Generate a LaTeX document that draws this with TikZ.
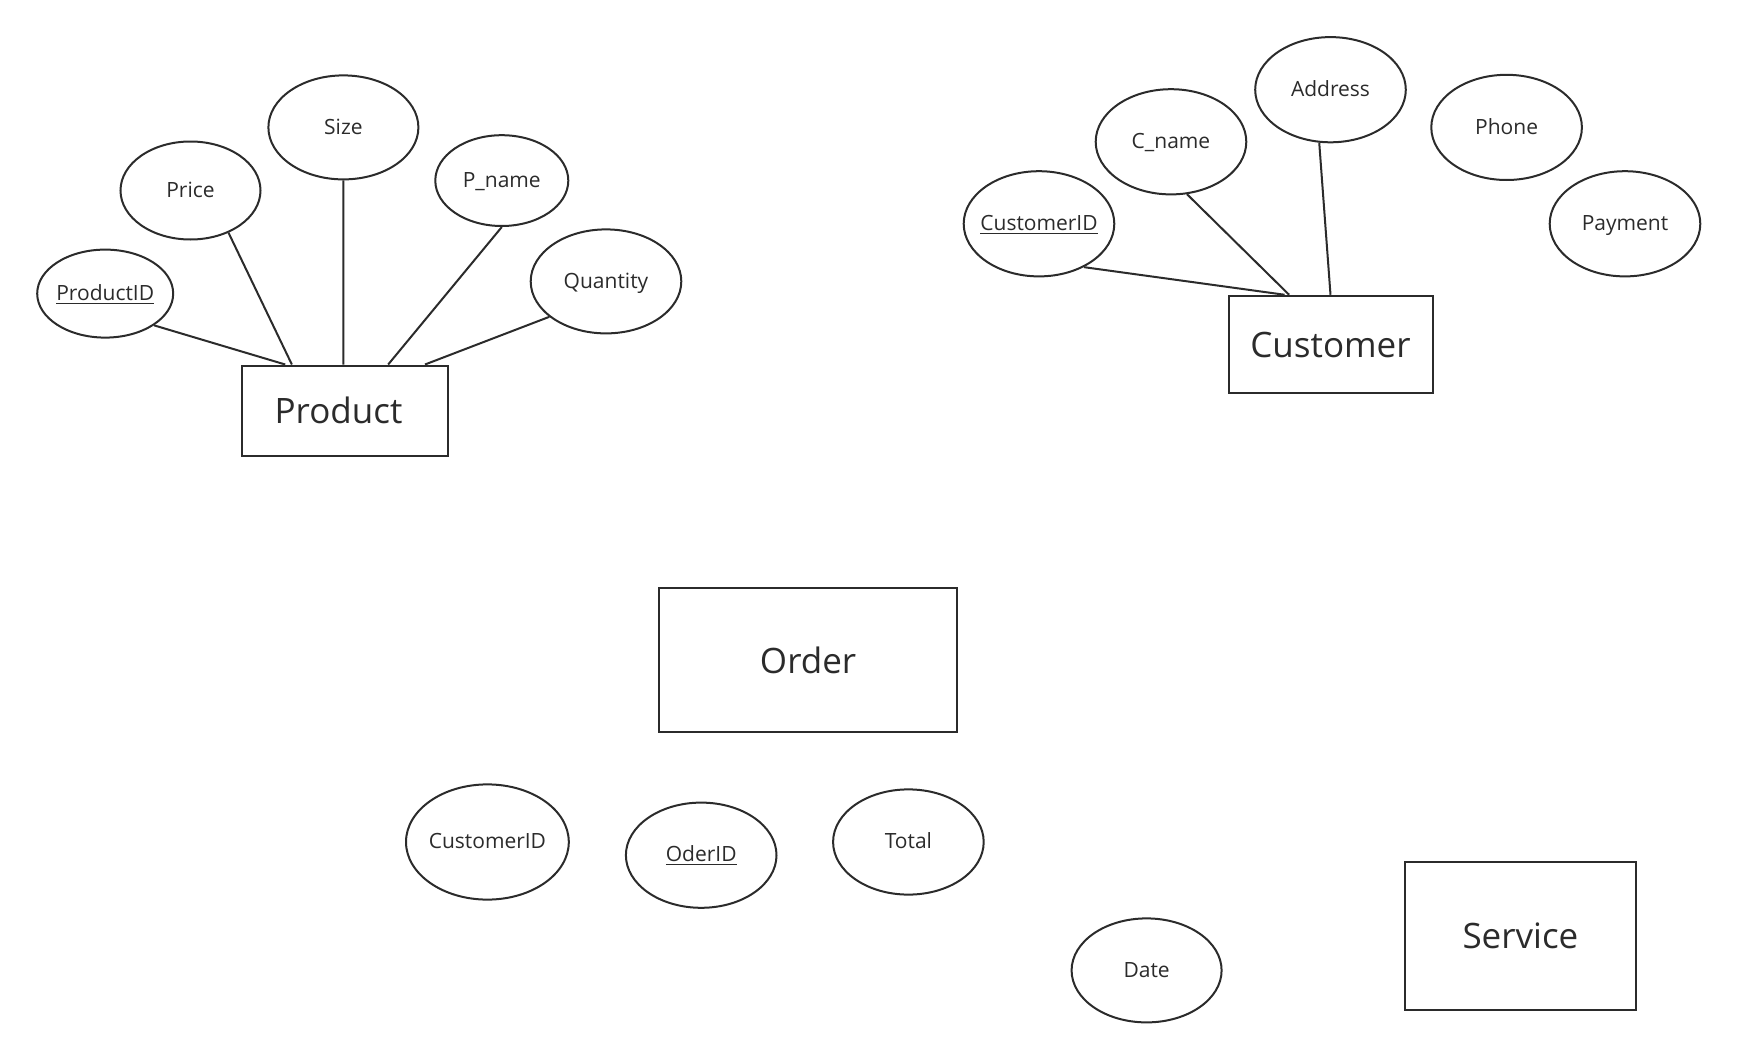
\documentclass[tikz,border=0pt]{standalone}
\usepackage{fontspec}
\setmainfont{Open Sans}
\usetikzlibrary{calc,shapes.geometric}
\definecolor{ink}{HTML}{2B2B2B}
\tikzset{
  attr/.style={draw=ink, line width=1pt, ellipse, inner ysep=0pt, inner xsep=-18pt, text height=6.6pt, text depth=0pt, text=ink, font=\fontsize{10.5}{12}\selectfont},
  entity/.style={draw=ink, line width=1pt, rectangle, inner sep=0pt, text=ink, font=\fontsize{17.5}{20}\selectfont},
  link/.style={draw=ink, line width=1pt}
}
\begin{document}
\begin{tikzpicture}[x=0.5pt,y=-0.5pt]
\useasboundingbox (0,0) rectangle (1737,1060);
% Product
\node[entity, minimum width=103pt, minimum height=45pt] (prod) at (344.5,410.5) {Product\hspace*{6pt}};
\node[attr, minimum width=68pt, minimum height=44pt] (pid) at (105.2,293.6) {\underline{ProductID}};
\node[attr, minimum width=70pt, minimum height=49pt] (price) at (190.5,190.5) {Price};
\node[attr, minimum width=75pt, minimum height=52pt] (size) at (343.4,127.4) {Size};
\node[attr, minimum width=66.5pt, minimum height=45.4pt] (pname) at (501.8,180.6) {P\_name};
\node[attr, minimum width=75.3pt, minimum height=52pt] (qty) at (606,281.4) {Quantity};
\coordinate (p1) at ($(prod.north west)!0.215!(prod.north east)$);
\coordinate (p2) at ($(prod.north west)!0.247!(prod.north east)$);
\coordinate (p3) at ($(prod.north west)!0.495!(prod.north east)$);
\coordinate (p4) at ($(prod.north west)!0.71!(prod.north east)$);
\coordinate (p5) at ($(prod.north west)!0.887!(prod.north east)$);
\draw[link] (pid.-33) -- (p1);
\draw[link] (price.-48) -- (p2);
\draw[link] (size.south) -- (p3);
\draw[link] (pname.south) -- (p4);
\draw[link] (qty.-148) -- (p5);
% Customer
\node[entity, minimum width=102pt, minimum height=48.75pt] (cust) at (1330.5,344.5) {Customer};
\node[attr, minimum width=75.3pt, minimum height=52.6pt] (cid) at (1039,223.8) {\underline{CustomerID}};
\node[attr, minimum width=75.3pt, minimum height=52.6pt] (cname) at (1171,141.8) {C\_name};
\node[attr, minimum width=75.3pt, minimum height=52.6pt] (addr) at (1330.5,89.7) {Address};
\node[attr, minimum width=75.3pt, minimum height=52.6pt] (phone) at (1506.6,127.4) {Phone};
\node[attr, minimum width=75.3pt, minimum height=52.6pt] (pay) at (1625,223.8) {Payment};
\coordinate (c1) at ($(cust.north west)!0.277!(cust.north east)$);
\coordinate (c2) at ($(cust.north west)!0.299!(cust.north east)$);
\coordinate (c3) at ($(cust.north west)!0.5!(cust.north east)$);
\draw[link] (cid.-44) -- (c1);
\draw[link] (cname.-73) -- (c2);
\draw[link] (addr.-102) -- (c3);
% Order
\node[entity, minimum width=149pt, minimum height=72pt] (order) at (808.1,660.3) {Order};
\node[attr, minimum width=81.4pt, minimum height=57.6pt] (ocid) at (487.4,842) {CustomerID};
\node[attr, minimum width=75.3pt, minimum height=52.6pt] (oid) at (701.2,855.2) {\underline{OderID}};
\node[attr, minimum width=75.3pt, minimum height=52.6pt] (total) at (908.4,842) {Total};
\node[attr, minimum width=75pt, minimum height=52pt] (date) at (1146.6,970.4) {Date};
% Service
\node[entity, minimum width=115.75pt, minimum height=74.2pt] (serv) at (1520.4,936.1) {Service};
\end{tikzpicture}
\end{document}
